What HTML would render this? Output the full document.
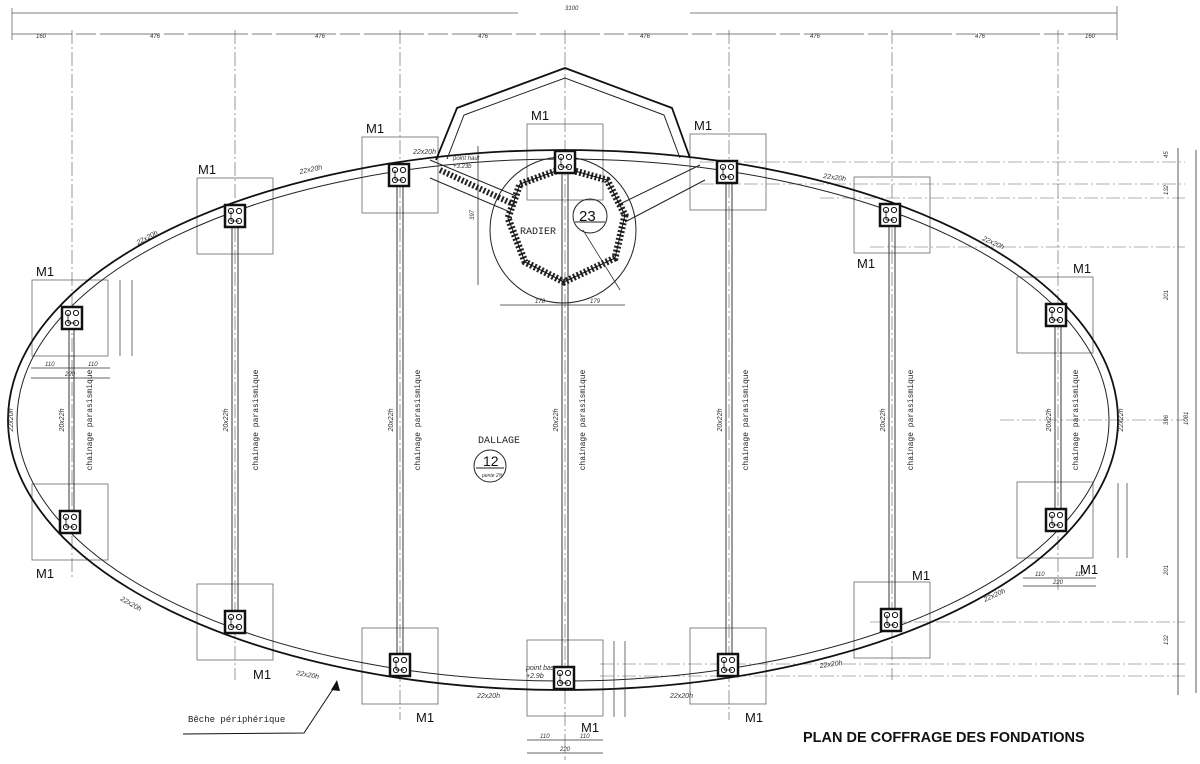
<!DOCTYPE html>
<html><head><meta charset="utf-8"><style>
html,body{margin:0;padding:0;background:#fff;width:1200px;height:764px;overflow:hidden}
svg{display:block}
.m{font-family:"Liberation Sans",sans-serif;font-size:13px;fill:#111}
.s{font-family:"Liberation Mono",monospace;font-size:8px;fill:#222}
.d{font-family:"Liberation Sans",sans-serif;font-size:6px;fill:#333;font-style:italic}
</style></head><body>
<svg width="1200" height="764" viewBox="0 0 1200 764" xmlns="http://www.w3.org/2000/svg">
<defs>
<g id="col"><rect x="-10" y="-11" width="20" height="22" fill="#fff" stroke="#111" stroke-width="2.5"/>
<circle cx="-4" cy="-5" r="2.6" fill="none" stroke="#111"/><circle cx="4" cy="-5" r="2.6" fill="none" stroke="#111"/>
<circle cx="-4" cy="5" r="2.6" fill="none" stroke="#111"/><circle cx="4" cy="5" r="2.6" fill="none" stroke="#111"/>
<line x1="-4" y1="-5" x2="-4" y2="5" stroke="#111" stroke-width=".8"/><line x1="-4" y1="5" x2="4" y2="5" stroke="#111" stroke-width=".8"/></g>
<rect id="box" x="-38" y="-38" width="76" height="76" fill="none" stroke="#666" stroke-width="0.8"/>
</defs>
<g stroke="#555" stroke-width="0.7">
<line x1="12" y1="13" x2="518" y2="13"/><line x1="690" y1="13" x2="1117" y2="13"/>
<line x1="12" y1="34" x2="1117" y2="34" stroke-dasharray="60 4 20 4"/>
<line x1="12" y1="8" x2="12" y2="40"/><line x1="1117" y1="6" x2="1117" y2="40"/>
</g>
<g class="d"><text x="565" y="10">3100</text><text x="36" y="38">160</text><text x="150" y="38">476</text><text x="315" y="38">476</text><text x="478" y="38">476</text><text x="640" y="38">476</text><text x="810" y="38">476</text><text x="975" y="38">476</text><text x="1085" y="38">160</text></g>
<g stroke="#555" stroke-width="0.6" stroke-dasharray="14 3 2 3">
<line x1="72" y1="30" x2="72" y2="580"/><line x1="235" y1="30" x2="235" y2="680"/><line x1="400" y1="30" x2="400" y2="720"/>
<line x1="565" y1="30" x2="565" y2="760"/><line x1="729" y1="30" x2="729" y2="720"/><line x1="892" y1="30" x2="892" y2="680"/><line x1="1058" y1="30" x2="1058" y2="590"/>
</g>
<g stroke="#666" stroke-width="0.6" stroke-dasharray="14 3 2 3">
<line x1="700" y1="162" x2="1185" y2="162"/><line x1="700" y1="184" x2="1185" y2="184"/><line x1="820" y1="198" x2="1185" y2="198"/><line x1="870" y1="247" x2="1185" y2="247"/>
<line x1="1000" y1="420" x2="1185" y2="420"/><line x1="870" y1="622" x2="1185" y2="622"/><line x1="600" y1="664" x2="1185" y2="664"/><line x1="600" y1="676" x2="1185" y2="676"/>
</g>
<g stroke="#333" stroke-width="0.8"><line x1="1178" y1="148" x2="1178" y2="695"/><line x1="1196" y1="150" x2="1196" y2="693"/></g>
<g class="d"><text x="1168" y="158" transform="rotate(-90 1168 158)">45</text><text x="1168" y="195" transform="rotate(-90 1168 195)">132</text><text x="1168" y="300" transform="rotate(-90 1168 300)">201</text><text x="1168" y="425" transform="rotate(-90 1168 425)">396</text><text x="1168" y="575" transform="rotate(-90 1168 575)">201</text><text x="1168" y="645" transform="rotate(-90 1168 645)">132</text><text x="1188" y="425" transform="rotate(-90 1188 425)">1081</text></g>
<use href="#box" x="70" y="318"/><use href="#box" x="70" y="522"/>
<use href="#box" x="235" y="216"/><use href="#box" x="235" y="622"/>
<use href="#box" x="400" y="175"/><use href="#box" x="400" y="666"/>
<use href="#box" x="565" y="162"/><use href="#box" x="565" y="678"/>
<use href="#box" x="728" y="172"/><use href="#box" x="728" y="666"/>
<use href="#box" x="892" y="215"/><use href="#box" x="892" y="620"/>
<use href="#box" x="1055" y="315"/><use href="#box" x="1055" y="520"/>
<ellipse cx="563" cy="420" rx="555" ry="270" fill="none" stroke="#111" stroke-width="1.8"/>
<ellipse cx="563" cy="420" rx="546" ry="261" fill="none" stroke="#222" stroke-width="1"/>
<polyline points="436,160 457,108 565,68 672,108 690,158" fill="none" stroke="#111" stroke-width="1.8"/>
<polyline points="447,159 464,115 565,78 664,115 680,158" fill="none" stroke="#222" stroke-width="1"/>
<circle cx="563" cy="230" r="73" fill="none" stroke="#222" stroke-width="1"/>
<polygon points="564,168 607,180 625,215 615,258 564,282 525,262 508,218 520,184" fill="none" stroke="#222" stroke-width="7" stroke-dasharray="2 2"/>
<polygon points="564,168 607,180 625,215 615,258 564,282 525,262 508,218 520,184" fill="none" stroke="#111" stroke-width="1"/>
<line x1="440" y1="170" x2="515" y2="205" stroke="#222" stroke-width="6" stroke-dasharray="2 2"/>
<line x1="430" y1="160" x2="516" y2="196" stroke="#222" stroke-width="1"/><line x1="430" y1="178" x2="510" y2="212" stroke="#222" stroke-width="1"/>
<line x1="618" y1="205" x2="700" y2="165" stroke="#222" stroke-width="1"/><line x1="625" y1="222" x2="705" y2="180" stroke="#222" stroke-width="1"/>
<circle cx="590" cy="216" r="17" fill="none" stroke="#222"/><line x1="575" y1="222" x2="605" y2="222" stroke="#222"/>
<text x="579" y="221" class="m" style="font-size:15px">23</text>
<text x="520" y="234" class="s" style="font-size:10px">RADIER</text>
<line x1="583" y1="230" x2="620" y2="290" stroke="#333" stroke-width=".8"/>
<g stroke="#333" stroke-width=".8"><line x1="478" y1="146" x2="478" y2="285"/><line x1="500" y1="305" x2="625" y2="305"/></g>
<g class="d"><text x="453" y="160">point haut</text><text x="453" y="168">+3.23b</text><text x="535" y="303">178</text><text x="590" y="303">179</text><text x="474" y="220" transform="rotate(-90 474 220)">397</text></g>
<g stroke="#222" stroke-width="0.9">
<line x1="69" y1="318" x2="69" y2="522"/><line x1="74" y1="318" x2="74" y2="522"/>
<line x1="232" y1="216" x2="232" y2="622"/><line x1="238" y1="216" x2="238" y2="622"/>
<line x1="397" y1="175" x2="397" y2="666"/><line x1="403" y1="175" x2="403" y2="666"/>
<line x1="562" y1="162" x2="562" y2="678"/><line x1="568" y1="162" x2="568" y2="678"/>
<line x1="726" y1="172" x2="726" y2="666"/><line x1="732" y1="172" x2="732" y2="666"/>
<line x1="889" y1="215" x2="889" y2="620"/><line x1="895" y1="215" x2="895" y2="620"/>
<line x1="1055" y1="315" x2="1055" y2="520"/><line x1="1061" y1="315" x2="1061" y2="520"/>
</g>
<use href="#col" x="72" y="318"/><use href="#col" x="70" y="522"/>
<use href="#col" x="235" y="216"/><use href="#col" x="235" y="622"/>
<use href="#col" x="399" y="175"/><use href="#col" x="400" y="665"/>
<use href="#col" x="565" y="162"/><use href="#col" x="564" y="678"/>
<use href="#col" x="727" y="172"/><use href="#col" x="728" y="665"/>
<use href="#col" x="890" y="215"/><use href="#col" x="891" y="620"/>
<use href="#col" x="1056" y="315"/><use href="#col" x="1056" y="520"/>
<g class="m">
<text x="36" y="276">M1</text><text x="36" y="578">M1</text>
<text x="198" y="174">M1</text><text x="253" y="679">M1</text>
<text x="366" y="133">M1</text><text x="416" y="722">M1</text>
<text x="531" y="120">M1</text><text x="581" y="732">M1</text>
<text x="694" y="130">M1</text><text x="745" y="722">M1</text>
<text x="857" y="268">M1</text><text x="912" y="580">M1</text>
<text x="1073" y="273">M1</text><text x="1080" y="574">M1</text>
</g>
<g class="s">
<text transform="translate(92,420) rotate(-90)" text-anchor="middle">chainage parasismique</text>
<text transform="translate(258,420) rotate(-90)" text-anchor="middle">chainage parasismique</text>
<text transform="translate(420,420) rotate(-90)" text-anchor="middle">chainage parasismique</text>
<text transform="translate(585,420) rotate(-90)" text-anchor="middle">chainage parasismique</text>
<text transform="translate(748,420) rotate(-90)" text-anchor="middle">chainage parasismique</text>
<text transform="translate(913,420) rotate(-90)" text-anchor="middle">chainage parasismique</text>
<text transform="translate(1078,420) rotate(-90)" text-anchor="middle">chainage parasismique</text>
</g>
<g class="d" style="font-size:7px">
<text transform="translate(64,420) rotate(-90)" text-anchor="middle">20x22h</text>
<text transform="translate(228,420) rotate(-90)" text-anchor="middle">20x22h</text>
<text transform="translate(393,420) rotate(-90)" text-anchor="middle">20x22h</text>
<text transform="translate(558,420) rotate(-90)" text-anchor="middle">20x22h</text>
<text transform="translate(722,420) rotate(-90)" text-anchor="middle">20x22h</text>
<text transform="translate(885,420) rotate(-90)" text-anchor="middle">20x22h</text>
<text transform="translate(1051,420) rotate(-90)" text-anchor="middle">20x22h</text>
<text transform="translate(13,420) rotate(-90)" text-anchor="middle">22x20h</text>
<text transform="translate(1123,420) rotate(-90)" text-anchor="middle">22x22h</text>
<text x="300" y="174" transform="rotate(-12 300 174)">22x20h</text>
<text x="138" y="245" transform="rotate(-28 138 245)">22x20h</text>
<text x="413" y="154">22x20h</text>
<text x="823" y="178" transform="rotate(8 823 178)">22x20h</text>
<text x="982" y="240" transform="rotate(25 982 240)">22x20h</text>
<text x="985" y="602" transform="rotate(-25 985 602)">22x20h</text>
<text x="820" y="668" transform="rotate(-8 820 668)">22x20h</text>
<text x="670" y="698">22x20h</text><text x="477" y="698">22x20h</text>
<text x="296" y="675" transform="rotate(10 296 675)">22x20h</text>
<text x="120" y="600" transform="rotate(30 120 600)">22x20h</text>
<text x="526" y="670">point bas</text><text x="526" y="678">+2.9b</text>
</g>
<g stroke="#333" stroke-width=".7"><line x1="31" y1="368" x2="110" y2="368"/><line x1="31" y1="378" x2="110" y2="378"/><line x1="120" y1="280" x2="120" y2="356"/><line x1="132" y1="280" x2="132" y2="356"/>
<line x1="1023" y1="578" x2="1096" y2="578"/><line x1="1023" y1="586" x2="1096" y2="586"/><line x1="1118" y1="483" x2="1118" y2="558"/><line x1="1127" y1="483" x2="1127" y2="558"/>
<line x1="527" y1="740" x2="603" y2="740"/><line x1="527" y1="753" x2="603" y2="753"/><line x1="614" y1="641" x2="614" y2="717"/><line x1="625" y1="641" x2="625" y2="717"/></g>
<g class="d"><text x="45" y="366">110</text><text x="88" y="366">110</text><text x="65" y="376">220</text><text x="1035" y="576">110</text><text x="1075" y="576">110</text><text x="1053" y="584">220</text><text x="540" y="738">110</text><text x="580" y="738">110</text><text x="560" y="751">220</text></g>
<text x="478" y="443" class="s" style="font-size:10px">DALLAGE</text>
<circle cx="490" cy="466" r="16" fill="none" stroke="#222"/><line x1="476" y1="468" x2="504" y2="468" stroke="#222"/>
<text x="483" y="466" class="m" style="font-size:14px">12</text>
<text x="482" y="477" class="d" style="font-size:5px">pente 2%</text>
<text x="188" y="722" class="s" style="font-size:9px">Bêche périphérique</text>
<polyline points="183,734 304,733 337,683" fill="none" stroke="#111" stroke-width="1"/>
<polygon points="337,680 331,690 340,691" fill="#111"/>
<text x="803" y="742" style="font-family:'Liberation Sans',sans-serif;font-weight:bold;font-size:14.5px;fill:#111">PLAN DE COFFRAGE DES FONDATIONS</text>
</svg>
</body></html>
